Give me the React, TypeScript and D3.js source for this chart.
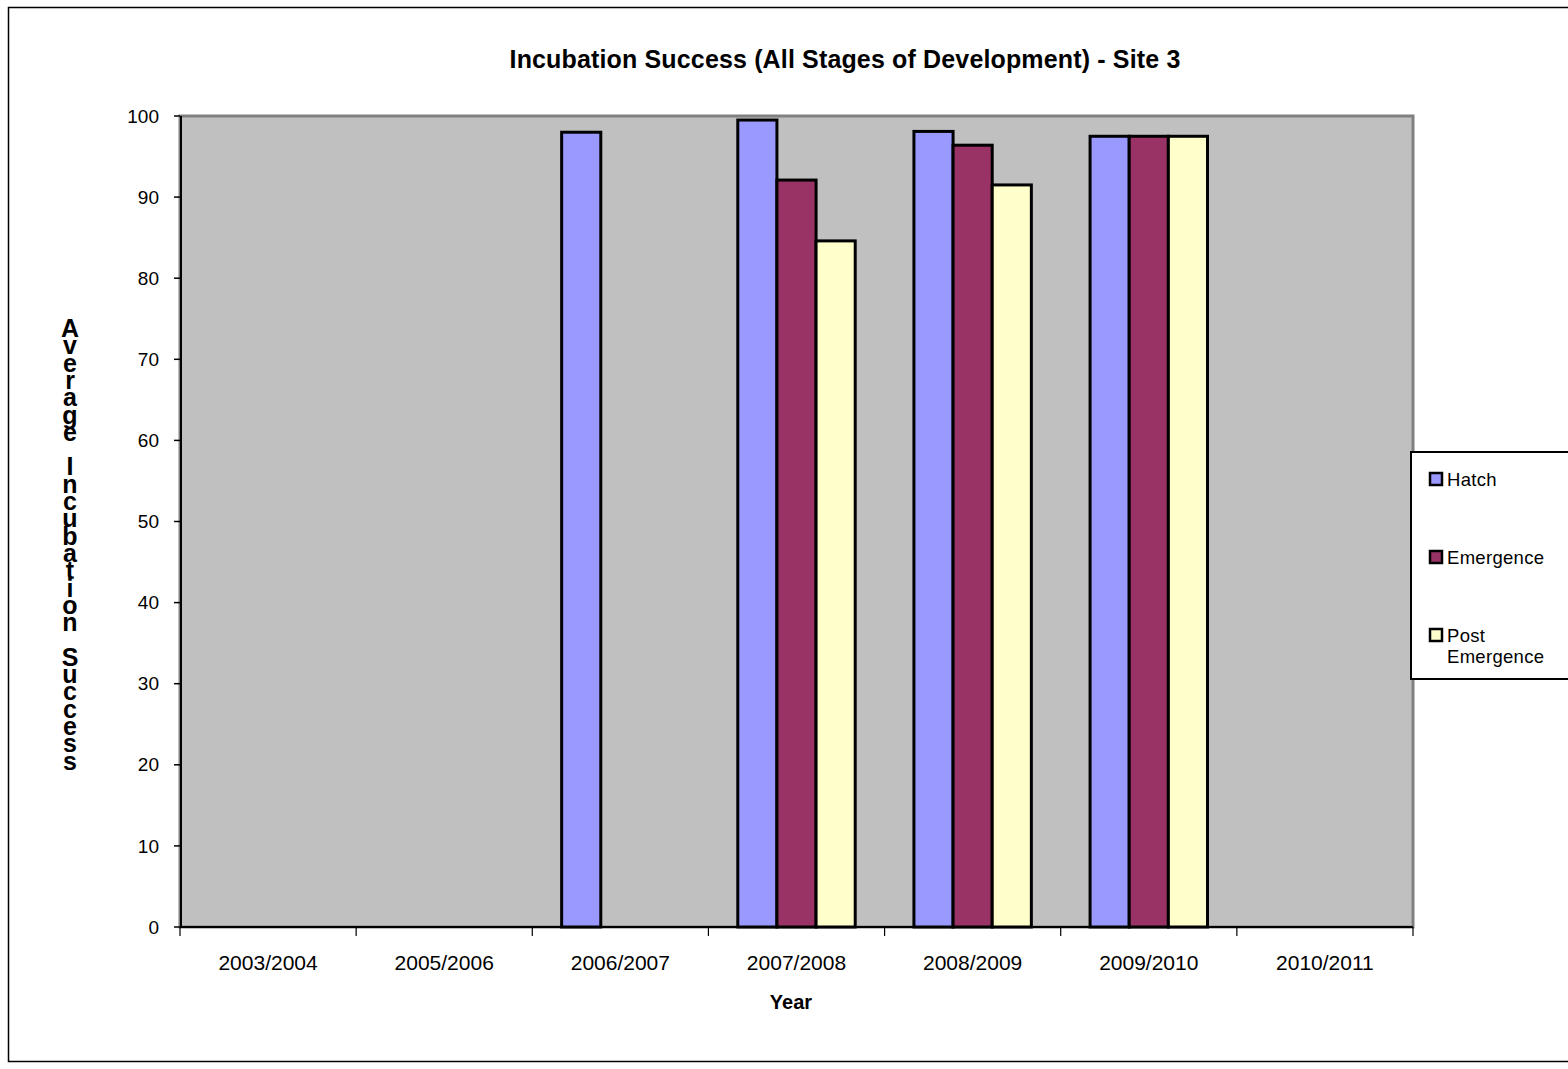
import React from "react";
import * as d3 from "d3";

// Season labels along the x axis
const seasons = [
  "2003/2004",
  "2005/2006",
  "2006/2007",
  "2007/2008",
  "2008/2009",
  "2009/2010",
  "2010/2011",
];

// Series names and their fills
const seriesNames = ["Hatch", "Emergence", "Post Emergence"];
const seriesColors = ["#9999FF", "#993366", "#FFFFCC"];

// Average success (%) per season; null where no value was recorded
const hatch = [null, null, 98.0, 99.5, 98.1, 97.5, null];
const emergence = [null, null, null, 92.1, 96.4, 97.5, null];
const postEmergence = [null, null, null, 84.6, 91.5, 97.5, null];

const yTicks = [0, 10, 20, 30, 40, 50, 60, 70, 80, 90, 100];

const title = "Incubation Success (All Stages of Development) - Site 3";
const yLabel = "Average Incubation Success";
const xLabel = "Year";

const FONT = "'Liberation Sans', Arial, Helvetica, sans-serif";

export default function App() {
  const W = 1568;
  const H = 1069;
  const plot = { left: 180, right: 1413, top: 116, bottom: 927 };

  const x0 = d3
    .scaleBand<string>()
    .domain(seasons)
    .range([plot.left, plot.right])
    .padding(0);
  const x1 = d3
    .scaleBand<string>()
    .domain(seriesNames)
    .range([0, x0.bandwidth()])
    .paddingInner(0)
    .paddingOuter(0.75);
  const y = d3.scaleLinear().domain([0, 100]).range([plot.bottom, plot.top]);

  const seriesValues = [hatch, emergence, postEmergence];

  const bars: { key: string; x: number; y: number; w: number; h: number; fill: string }[] = [];
  seasons.forEach((s, i) => {
    seriesNames.forEach((name, j) => {
      const v = seriesValues[j][i];
      if (v == null) return;
      const bx = (x0(s) ?? 0) + (x1(name) ?? 0);
      bars.push({
        key: `${s}-${name}`,
        x: bx,
        y: y(v),
        w: x1.bandwidth(),
        h: y(0) - y(v),
        fill: seriesColors[j],
      });
    });
  });

  // boundaries between categories for tick marks
  const xTickPos = seasons.map((s) => x0(s) ?? 0).concat([plot.right]);

  // stacked vertical axis title, one glyph per line
  const yChars = yLabel.split("");
  const yLabelStart = 337;
  const yLabelStep = 17.3;

  const legendItems = [
    { name: "Hatch", lines: ["Hatch"], sqY: 472 },
    { name: "Emergence", lines: ["Emergence"], sqY: 550 },
    { name: "Post Emergence", lines: ["Post", "Emergence"], sqY: 628 },
  ];

  return (
    <svg
      width={W}
      height={H}
      style={{ position: "absolute", left: 0, top: 0, background: "#fff" }}
      fontFamily={FONT}
    >
      {/* chart frame */}
      <rect x={8.5} y={7.5} width={1600} height={1054} fill="#fff" stroke="#000" strokeWidth={1.5} />

      {/* title */}
      <text x={845} y={68} textAnchor="middle" fontSize={25} fontWeight="bold" letterSpacing={0.15}>
        {title}
      </text>

      {/* plot area */}
      <rect
        x={plot.left}
        y={plot.top}
        width={plot.right - plot.left}
        height={plot.bottom - plot.top}
        fill="#C0C0C0"
        stroke="#808080"
        strokeWidth={3}
      />

      {/* bars */}
      {bars.map((b) => (
        <rect
          key={b.key}
          x={b.x}
          y={b.y}
          width={b.w}
          height={b.h}
          fill={b.fill}
          stroke="#000"
          strokeWidth={3}
        />
      ))}

      {/* y axis */}
      <line x1={plot.left + 1} x2={plot.left + 1} y1={plot.top} y2={plot.bottom} stroke="#000" strokeWidth={2} />
      {yTicks.map((t) => (
        <g key={t}>
          <line x1={plot.left - 6} x2={plot.left} y1={y(t)} y2={y(t)} stroke="#000" strokeWidth={1.5} />
          <text x={159} y={y(t)} dy="0.35em" textAnchor="end" fontSize={19}>
            {t}
          </text>
        </g>
      ))}

      {/* x axis */}
      <line x1={plot.left} x2={plot.right} y1={plot.bottom} y2={plot.bottom} stroke="#000" strokeWidth={2} />
      {xTickPos.map((p, i) => (
        <line key={i} x1={p} x2={p} y1={plot.bottom} y2={plot.bottom + 9} stroke="#000" strokeWidth={1.2} />
      ))}
      {seasons.map((s) => (
        <text
          key={s}
          x={(x0(s) ?? 0) + x0.bandwidth() / 2}
          y={970}
          textAnchor="middle"
          fontSize={21}
        >
          {s}
        </text>
      ))}

      {/* axis titles */}
      <text x={791} y={1009} textAnchor="middle" fontSize={20} fontWeight="bold">
        {xLabel}
      </text>
      <text textAnchor="middle" fontSize={25} fontWeight="bold">
        {yChars.map((c, i) => (
          <tspan key={i} x={70} y={yLabelStart + i * yLabelStep}>
            {c === " " ? "\u00a0" : c}
          </tspan>
        ))}
      </text>

      {/* legend */}
      <rect x={1411} y={452} width={200} height={227} fill="#fff" stroke="#000" strokeWidth={2} />
      {legendItems.map((it, i) => (
        <g key={it.name}>
          <rect
            x={1430}
            y={it.sqY + 1}
            width={12}
            height={12}
            fill={seriesColors[i]}
            stroke="#000"
            strokeWidth={2.5}
          />
          {it.lines.map((ln, k) => (
            <text key={k} x={1447} y={it.sqY + 14 + k * 21} fontSize={18.5} letterSpacing={0.3}>
              {ln}
            </text>
          ))}
        </g>
      ))}
    </svg>
  );
}
